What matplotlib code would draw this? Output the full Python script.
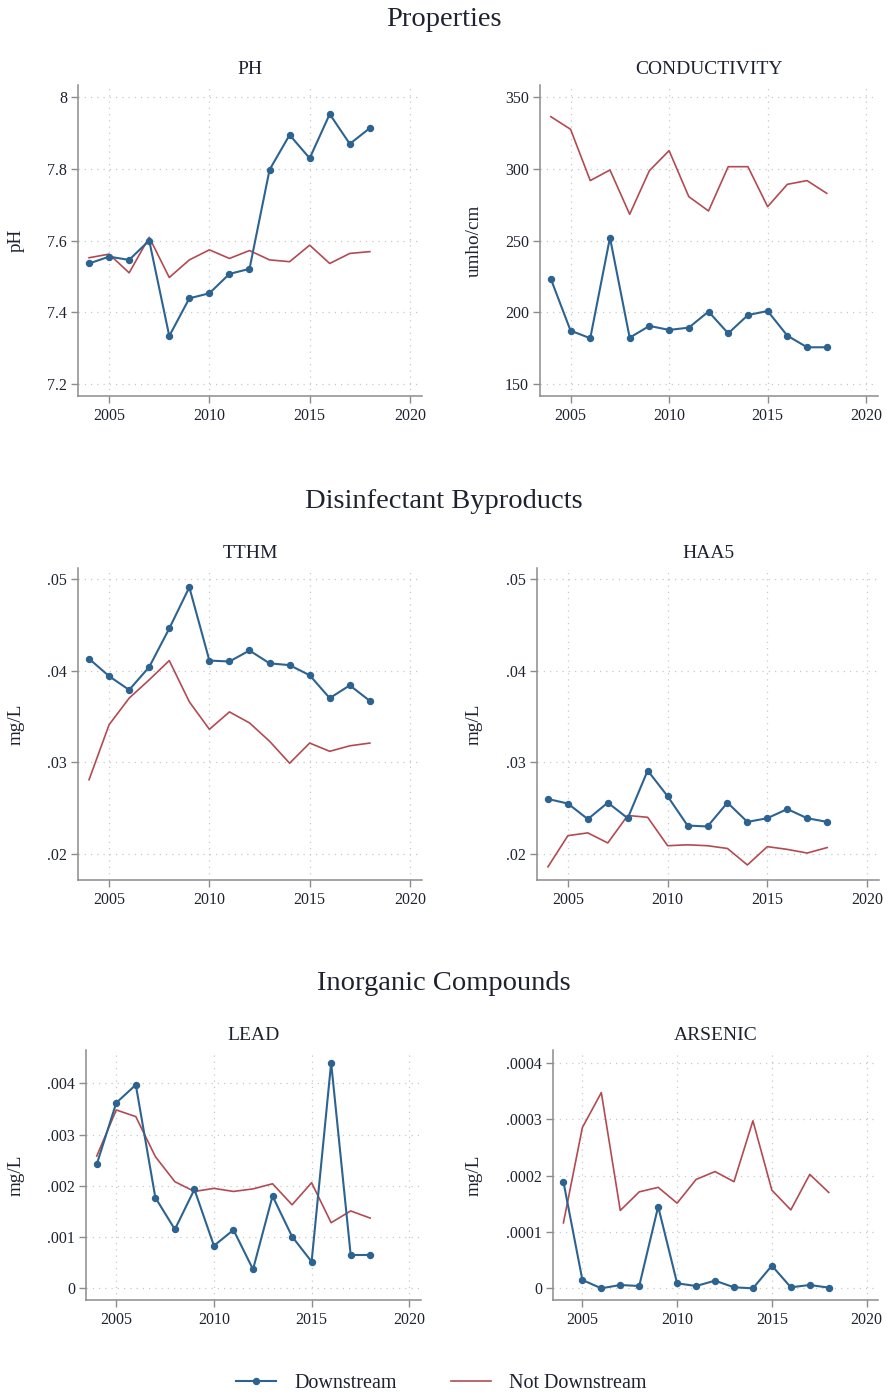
import matplotlib.pyplot as plt
from matplotlib.ticker import FuncFormatter

# water quality averages by year, downstream vs not downstream
years = list(range(2004, 2019))

ph_down = [7.536, 7.555, 7.546, 7.600, 7.334, 7.439, 7.453, 7.507, 7.521,
           7.797, 7.894, 7.829, 7.952, 7.869, 7.913]
ph_not = [7.552, 7.562, 7.510, 7.609, 7.497, 7.546, 7.574, 7.550, 7.572,
          7.546, 7.541, 7.587, 7.536, 7.564, 7.569]

cond_down = [223.3, 187.2, 181.9, 252.1, 182.3, 190.5, 187.7, 189.3, 200.5,
             185.3, 198.1, 200.9, 183.7, 175.6, 175.6]
cond_not = [336.5, 327.7, 291.9, 299.3, 268.4, 298.8, 312.8, 280.7, 270.7,
            301.6, 301.6, 273.7, 289.3, 291.9, 283.0]

tthm_down = [.0413, .0394, .0379, .0404, .0446, .0491, .0411, .0410, .0422,
             .0408, .0406, .0395, .0370, .0384, .0367]
tthm_not = [.0281, .0341, .0370, .0390, .0411, .0366, .0336, .0355, .0343,
            .0323, .0299, .0321, .0312, .0318, .0321]

haa5_down = [.0260, .0255, .0238, .0256, .0239, .0291, .0263, .0231, .0230,
             .0256, .0235, .0239, .0249, .0239, .0235]
haa5_not = [.0186, .0220, .0223, .0212, .0242, .0240, .0209, .0210, .0209,
            .0206, .0188, .0208, .0205, .0201, .0207]

lead_down = [.00242, .00362, .00397, .00177, .00115, .00193, .00083, .00114,
             .00037, .00180, .00101, .00052, .00440, .00065, .00065]
lead_not = [.00258, .00348, .00335, .00257, .00208, .00189, .00195, .00189,
            .00194, .00204, .00163, .00206, .00128, .00151, .00137]

ars_down = [.000189, .0000148, .0, .0000059, .0000041, .000145, .0000089,
            .0000041, .0000136, .0000018, .0, .0000402, .0000018, .0000059,
            .0000012]
ars_not = [.000116, .000285, .000347, .000138, .000171, .000179, .000151,
           .000193, .000207, .000189, .000297, .000174, .000139, .000202,
           .000170]

BLUE = '#2c6391'
RED = '#b34a52'
GRAY = '#8c8c8c'
TXT = '#1e2230'

plt.rcParams['font.family'] = ['Liberation Serif', 'DejaVu Serif']

W, H = 888, 1397
fig = plt.figure(figsize=(W / 100, H / 100), dpi=100)


def stata_fmt(v, pos):
    s = f"{v:.4f}".rstrip('0').rstrip('.')
    if s.startswith('0.'):
        s = s[1:]
    if s in ('', '-0', '0'):
        s = '0'
    return s


def panel(box, title, ylabel, down, notdown, ylim, yticks, label_x, title_y):
    left, top, right, bottom = box
    ax = fig.add_axes([left / W, 1 - bottom / H, (right - left) / W, (bottom - top) / H])
    ax.plot(years, notdown, color=RED, lw=1.2, zorder=3)
    ax.plot(years, down, color=BLUE, lw=1.5, marker='o', ms=4.3, zorder=4)
    ax.set_xlim(2003.45, 2020.6)
    ax.set_ylim(*ylim)
    ax.set_xticks([2005, 2010, 2015, 2020])
    ax.set_yticks(yticks)
    ax.yaxis.set_major_formatter(FuncFormatter(stata_fmt))
    ax.grid(True, linestyle=(0, (1, 4)), color='#c8c8c8', lw=0.9)
    for s in ('top', 'right'):
        ax.spines[s].set_visible(False)
    for s in ('left', 'bottom'):
        ax.spines[s].set_color(GRAY)
        ax.spines[s].set_linewidth(1.1)
    ax.tick_params(axis='both', colors=GRAY, labelcolor=TXT, labelsize=11.5,
                   length=5, width=1)
    ax.tick_params(axis='y', pad=3)
    ax.tick_params(axis='x', pad=4)
    ax.set_ylabel(ylabel, fontsize=13.8, color=TXT)
    ax.yaxis.set_label_coords((label_x - left) / (right - left), 0.5)
    fig.text((left + right) / 2 / W, 1 - title_y / H, title, fontsize=14,
             color=TXT, ha='center', va='center')
    return ax


panel((78, 85, 422, 396), 'PH', 'pH', ph_down, ph_not,
      (7.167, 8.033), [7.2, 7.4, 7.6, 7.8, 8.0], 25, 70)
panel((540, 85, 878, 396), 'CONDUCTIVITY', 'umho/cm', cond_down, cond_not,
      (141.6, 358.6), [150, 200, 250, 300, 350], 483, 70)
panel((78, 568, 422, 880), 'TTHM', 'mg/L', tthm_down, tthm_not,
      (.01716, .0512), [.02, .03, .04, .05], 25, 553)
panel((537, 568, 879, 880), 'HAA5', 'mg/L', haa5_down, haa5_not,
      (.01716, .0512), [.02, .03, .04, .05], 483, 553)
panel((86, 1050, 421, 1300), 'LEAD', 'mg/L', lead_down, lead_not,
      (-.000228, .00465), [0, .001, .002, .003, .004], 25, 1035)
panel((553, 1050, 878, 1300), 'ARSENIC', 'mg/L', ars_down, ars_not,
      (-.0000207, .0004225), [0, .0001, .0002, .0003, .0004], 483, 1035)

for label, y in [('Properties', 19), ('Disinfectant Byproducts', 501),
                 ('Inorganic Compounds', 984)]:
    fig.text(0.5, 1 - y / H, label, fontsize=20.5, color=TXT,
             ha='center', va='center')

h1, = plt.plot([], [], color=BLUE, lw=1.5, marker='o', ms=4.3)
h2, = plt.plot([], [], color=RED, lw=1.2)
leg = fig.legend([h1, h2], ['Downstream', 'Not Downstream'], loc='center',
                 bbox_to_anchor=(0.497, 1 - 1383 / H), ncol=2, frameon=False,
                 fontsize=14.5, handlelength=2.0, handletextpad=0.9,
                 columnspacing=2.7)
for t in leg.get_texts():
    t.set_color(TXT)

fig.savefig('out.png', dpi=100)
